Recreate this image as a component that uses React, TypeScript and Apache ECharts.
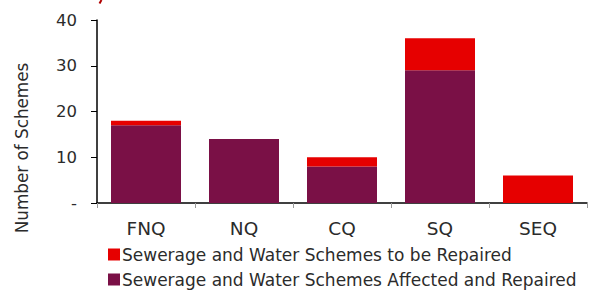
import React, { useEffect, useRef } from "react";
import * as echarts from "echarts";

const categories = ["FNQ", "NQ", "CQ", "SQ", "SEQ"];
const affectedRepaired = [17, 14, 8, 29, 0];
const toBeRepaired = [1, 0, 2, 7, 6];

const S_REPAIR = "Sewerage and Water Schemes to be Repaired";
const S_AFFECTED = "Sewerage and Water Schemes Affected and Repaired";

const FONT = "'DejaVu Sans', 'Liberation Sans', Arial, sans-serif";
const TXT = "#2b2b2b";

export default function App() {
  const ref = useRef<HTMLDivElement>(null);
  useEffect(() => {
    const chart = echarts.init(ref.current!, null, { renderer: "svg" });
    const legendBase = {
      orient: "horizontal",
      left: 108,
      itemWidth: 12,
      itemHeight: 12,
      icon: "rect",
      padding: 0,
      textStyle: { fontFamily: FONT, fontSize: 17, color: TXT, padding: [0, 0, 0, -3] },
    };
    chart.setOption({
      animation: false,
      grid: { left: 97, right: 3, top: 20, bottom: 88, containLabel: false },
      legend: [
        { ...legendBase, top: 246, data: [S_REPAIR] },
        { ...legendBase, top: 271, data: [S_AFFECTED] },
      ],
      xAxis: {
        type: "category",
        data: categories,
        axisLine: { lineStyle: { color: "#000", width: 1.5 } },
        axisTick: { show: true, length: 5, lineStyle: { color: "#999" } },
        axisLabel: { fontFamily: FONT, fontSize: 18.5, color: TXT, margin: 16 },
      },
      yAxis: {
        type: "value",
        min: 0,
        max: 40,
        interval: 10,
        splitLine: { show: false },
        axisLine: { show: true, lineStyle: { color: "#000", width: 1.5 } },
        axisTick: { show: true, length: 6, lineStyle: { color: "#000" } },
        axisLabel: {
          fontFamily: FONT,
          fontSize: 16.5,
          color: TXT,
          margin: 20,
          formatter: (v: number) => (v === 0 ? "-" : String(v)),
        },
      },
      graphic: [
        {
          type: "text",
          x: 22,
          y: 148,
          rotation: Math.PI / 2,
          style: {
            text: "Number of Schemes",
            fontFamily: FONT,
            fontSize: 16.8,
            fill: TXT,
            align: "center",
            verticalAlign: "middle",
          },
        },
        {
          type: "line",
          shape: { x1: 101.5, y1: 0, x2: 99.5, y2: 3.5 },
          style: { stroke: "#B00000", lineWidth: 2 },
        },
      ],
      series: [
        {
          name: S_AFFECTED,
          type: "bar",
          stack: "total",
          data: affectedRepaired,
          barWidth: 70,
          itemStyle: { color: "#7A1046" },
        },
        {
          name: S_REPAIR,
          type: "bar",
          stack: "total",
          data: toBeRepaired,
          barWidth: 70,
          itemStyle: { color: "#E60000" },
        },
      ],
    });
    return () => chart.dispose();
  }, []);
  return <div ref={ref} style={{ width: 590, height: 291, position: "absolute", left: 0, top: 0 }} />;
}
